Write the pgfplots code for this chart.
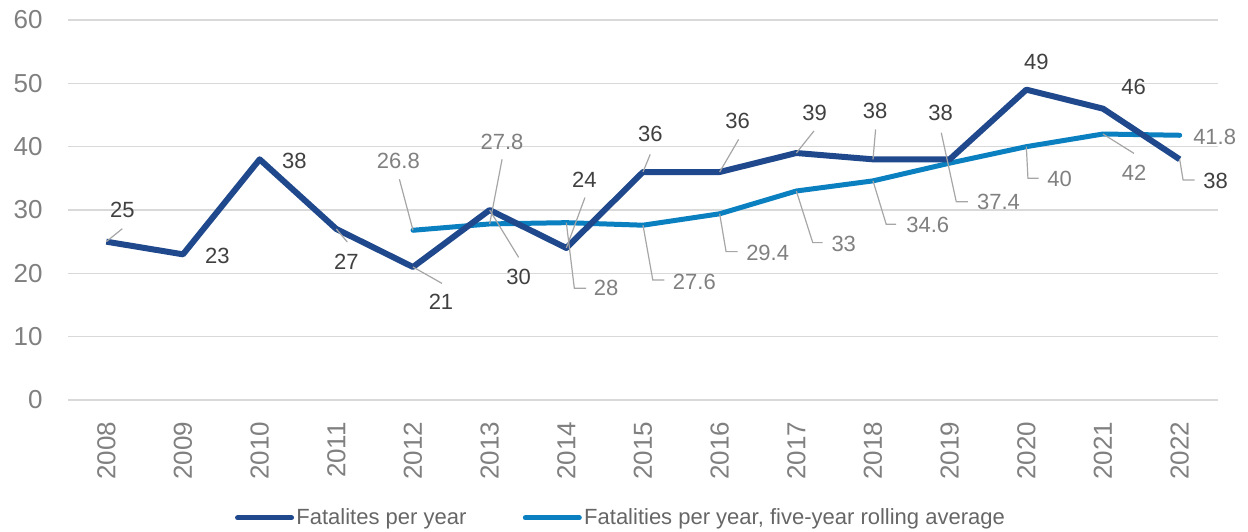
\documentclass[border=0pt]{standalone}
\usepackage{fontspec}
\setmainfont{Liberation Sans}
\usepackage{pgfplots}
\pgfplotsset{compat=1.18}
\definecolor{navy}{RGB}{31,73,140}
\definecolor{lblue}{RGB}{10,128,192}
\definecolor{tickgray}{RGB}{128,128,128}
\definecolor{lab1}{RGB}{64,64,64}
\definecolor{lab2}{RGB}{128,128,128}
\definecolor{leadc}{RGB}{166,166,166}
\definecolor{gridc}{RGB}{217,217,217}
\tikzset{
  ld/.style={leadc, line width=0.6pt},
  l1/.style={text=lab1, font=\fontsize{11pt}{13pt}\selectfont, inner sep=0pt},
  l2/.style={text=lab2, font=\fontsize{11pt}{13pt}\selectfont, inner sep=0pt},
}
\begin{document}
\begin{tikzpicture}
\useasboundingbox (0,0) rectangle (624pt,265.5pt);
\begin{axis}[
  at={(34pt,65.5pt)}, anchor=south west,
  scale only axis, width=575pt, height=190pt,
  xmin=-0.5, xmax=14.5, ymin=0, ymax=60,
  xtick={0,...,14},
  xticklabels={2008,2009,2010,2011,2012,2013,2014,2015,2016,2017,2018,2019,2020,2021,2022},
  ytick={0,10,...,60},
  axis line style={draw=none},
  major tick length=0pt,
  ymajorgrids, grid style={gridc, line width=0.75pt},
  /pgf/number format/assume math mode=true,
  xticklabel style={rotate=90, anchor=east, inner sep=0pt, font=\fontsize{13pt}{15pt}\selectfont, text=tickgray},
  yticklabel style={anchor=east, inner sep=0pt, font=\fontsize{13pt}{15pt}\selectfont, text=tickgray},
  xticklabel shift={10.8pt},
  yticklabel shift={12.5pt},
  clip=false,
  legend style={draw=none, fill=none, at={(0.481,-0.31)}, anchor=center,
    font=\fontsize{11pt}{13pt}\selectfont, text=lab1!80!white,
    /tikz/every even column/.append style={column sep=27pt},
    nodes={inner sep=1.2pt}},
  legend columns=2,
  legend image code/.code={\draw[#1, line width=2.5pt, line cap=round] (0pt,0pt) -- (27pt,0pt);},
]
\addlegendimage{navy}
\addlegendentry{Fatalites per year}
\addlegendimage{lblue}
\addlegendentry{Fatalities per year, five-year rolling average}

\addplot[lblue, line width=2.5pt, line cap=round, line join=round, forget plot] coordinates {
(4,26.8) (5,27.8) (6,28) (7,27.6) (8,29.4) (9,33) (10,34.6) (11,37.4) (12,40) (13,42) (14,41.8)};
\addplot[navy, line width=3pt, line join=round, forget plot] coordinates {
(0,25) (1,23) (2,38) (3,27) (4,21) (5,30) (6,24) (7,36) (8,36) (9,39) (10,38) (11,38) (12,49) (13,46) (14,38)};

% leader lines, series 1
\draw[ld] (axis cs:0,25) -- ++(8pt,6.5pt);
\draw[ld] (axis cs:3,27) -- ++(5.5pt,-6.5pt);
\draw[ld] (axis cs:4,21) -- ++(14.5pt,-8.2pt);
\draw[ld] (axis cs:5,30) -- ++(14.5pt,-23.7pt);
\draw[ld] (axis cs:6,24) -- ++(9.3pt,25.2pt);
\draw[ld] (axis cs:7,36) -- ++(3.6pt,8.8pt);
\draw[ld] (axis cs:8,36) -- ++(9.5pt,16.3pt);
\draw[ld] (axis cs:9,39) -- ++(8.8pt,11pt);
\draw[ld] (axis cs:10,38) -- ++(1.3pt,15pt);
\draw[ld] (axis cs:14,38) -- ++(1.7pt,-10.3pt) -- ++(5.8pt,0pt);
% leader lines, series 2
\draw[ld] ([shift={(-6.8pt,25.5pt)}]axis cs:4,26.8) -- (axis cs:4,26.8);
\draw[ld] ([shift={(6.2pt,32.3pt)}]axis cs:5,27.8) -- (axis cs:5,27.8);
\draw[ld] (axis cs:6,28) -- ++(4pt,-32.8pt) -- ++(5.9pt,0pt);
\draw[ld] (axis cs:7,27.6) -- ++(4.9pt,-27.4pt) -- ++(5.8pt,0pt);
\draw[ld] (axis cs:8,29.4) -- ++(3.2pt,-18.9pt) -- ++(5.8pt,0pt);
\draw[ld] (axis cs:9,33) -- ++(8.2pt,-25.8pt) -- ++(5pt,0pt);
\draw[ld] (axis cs:10,34.6) -- ++(6.6pt,-21.7pt) -- ++(5pt,0pt);
\draw[ld] ([shift={(-4.2pt,15.2pt)}]axis cs:11,37.4) -- ++(7.5pt,-34.5pt) -- ++(5.8pt,0pt);
\draw[ld] (axis cs:12,40) -- ++(0.8pt,-15.8pt) -- ++(5.4pt,0pt);
\draw[ld] (axis cs:13,42) -- ++(15.5pt,-9.7pt);

% labels, series 1
\node[l1, xshift=8pt, yshift=15.8pt] at (axis cs:0,25) {25};
\node[l1, xshift=17.2pt, yshift=-0.8pt] at (axis cs:1,23) {23};
\node[l1, xshift=17.3pt, yshift=-0.8pt] at (axis cs:2,38) {38};
\node[l1, xshift=5pt, yshift=-16.5pt] at (axis cs:3,27) {27};
\node[l1, xshift=14pt, yshift=-17.3pt] at (axis cs:4,21) {21};
\node[l1, xshift=14.5pt, yshift=-33.7pt] at (axis cs:5,30) {30};
\node[l1, xshift=9pt, yshift=34.3pt] at (axis cs:6,24) {24};
\node[l1, xshift=3.7pt, yshift=18.8pt] at (axis cs:7,36) {36};
\node[l1, xshift=9pt, yshift=25.7pt] at (axis cs:8,36) {36};
\node[l1, xshift=9.1pt, yshift=19.8pt] at (axis cs:9,39) {39};
\node[l1, xshift=1.1pt, yshift=24.2pt] at (axis cs:10,38) {38};
\node[l1, xshift=-4.5pt, yshift=23pt] at (axis cs:11,38) {38};
\node[l1, xshift=5pt, yshift=14pt] at (axis cs:12,49) {49};
\node[l1, xshift=15.3pt, yshift=11pt] at (axis cs:13,46) {46};
\node[l1, xshift=18pt, yshift=-10.7pt] at (axis cs:14,38) {38};
% labels, series 2
\node[l2, xshift=-7.3pt, yshift=34.8pt] at (axis cs:4,26.8) {26.8};
\node[l2, xshift=6.2pt, yshift=41.2pt] at (axis cs:5,27.8) {27.8};
\node[l2, xshift=19.9pt, yshift=-32.8pt] at (axis cs:6,28) {28};
\node[l2, xshift=25.7pt, yshift=-28.2pt] at (axis cs:7,27.6) {27.6};
\node[l2, xshift=24pt, yshift=-19.4pt] at (axis cs:8,29.4) {29.4};
\node[l2, xshift=23.7pt, yshift=-26.7pt] at (axis cs:9,33) {33};
\node[l2, xshift=27.4pt, yshift=-22pt] at (axis cs:10,34.6) {34.6};
\node[l2, xshift=24.4pt, yshift=-19.3pt] at (axis cs:11,37.4) {37.4};
\node[l2, xshift=16.6pt, yshift=-16.3pt] at (axis cs:12,40) {40};
\node[l2, xshift=15.5pt, yshift=-19.3pt] at (axis cs:13,42) {42};
\node[l2, xshift=17.5pt, yshift=-1pt] at (axis cs:14,41.8) {41.8};
\end{axis}
\end{tikzpicture}
\end{document}
